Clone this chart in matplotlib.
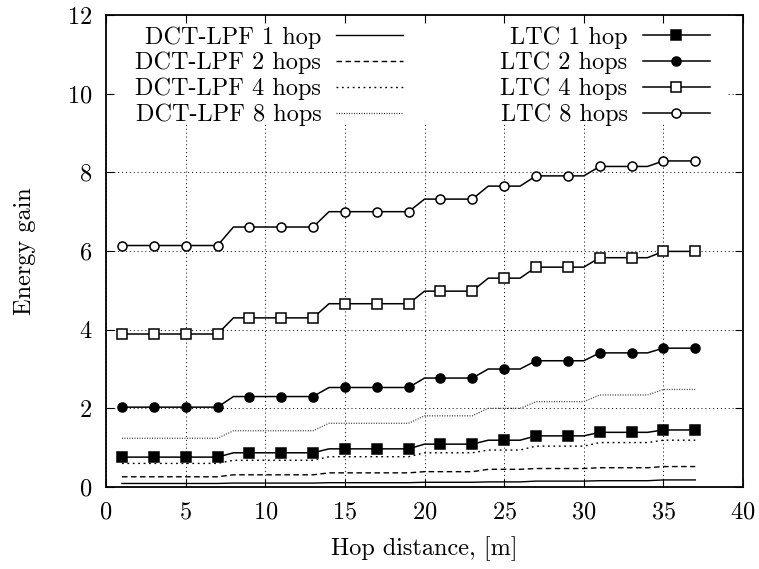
import numpy as np
import matplotlib
matplotlib.use("Agg")
import matplotlib.pyplot as plt
from matplotlib.patches import Rectangle

plt.rcParams["font.family"] = "serif"
plt.rcParams["font.serif"] = ["cmr10"]
plt.rcParams["mathtext.fontset"] = "cm"
plt.rcParams["axes.formatter.use_mathtext"] = True
plt.rcParams["font.size"] = 17.5

# hop distance in metres, one sample per metre
hop_distance = np.arange(1, 38)

dct_1 = [0.09, 0.09, 0.09, 0.09, 0.09, 0.09, 0.09,
         0.10, 0.10, 0.10, 0.10, 0.10, 0.10,
         0.11, 0.11, 0.11, 0.11, 0.11, 0.11,
         0.12, 0.12, 0.12, 0.12,
         0.13, 0.13, 0.13,
         0.15, 0.15, 0.15, 0.15,
         0.16, 0.16, 0.16, 0.16,
         0.18, 0.18, 0.18]
dct_2 = [0.26, 0.26, 0.26, 0.26, 0.26, 0.26, 0.26,
         0.31, 0.31, 0.31, 0.31, 0.31, 0.31,
         0.36, 0.36, 0.36, 0.36, 0.36, 0.36,
         0.39, 0.39, 0.39, 0.39,
         0.45, 0.45, 0.45,
         0.47, 0.47, 0.47, 0.47,
         0.49, 0.49, 0.49, 0.49,
         0.52, 0.52, 0.52]
dct_4 = [0.60, 0.60, 0.60, 0.60, 0.60, 0.60, 0.60,
         0.68, 0.68, 0.68, 0.68, 0.68, 0.68,
         0.77, 0.77, 0.77, 0.77, 0.77, 0.77,
         0.87, 0.87, 0.87, 0.87,
         0.94, 0.94, 0.94,
         1.04, 1.04, 1.04, 1.04,
         1.13, 1.13, 1.13, 1.13,
         1.19, 1.19, 1.19]
dct_8 = [1.24, 1.24, 1.24, 1.24, 1.24, 1.24, 1.24,
         1.43, 1.43, 1.43, 1.43, 1.43, 1.43,
         1.62, 1.62, 1.62, 1.62, 1.62, 1.62,
         1.81, 1.81, 1.81, 1.81,
         2.00, 2.00, 2.00,
         2.17, 2.17, 2.17, 2.17,
         2.34, 2.34, 2.34, 2.34,
         2.48, 2.48, 2.48]
ltc_1 = [0.76, 0.76, 0.76, 0.76, 0.76, 0.76, 0.76,
         0.87, 0.87, 0.87, 0.87, 0.87, 0.87,
         0.97, 0.97, 0.97, 0.97, 0.97, 0.97,
         1.09, 1.09, 1.09, 1.09,
         1.19, 1.19, 1.19,
         1.30, 1.30, 1.30, 1.30,
         1.39, 1.39, 1.39, 1.39,
         1.45, 1.45, 1.45]
ltc_2 = [2.03, 2.03, 2.03, 2.03, 2.03, 2.03, 2.03,
         2.30, 2.30, 2.30, 2.30, 2.30, 2.30,
         2.53, 2.53, 2.53, 2.53, 2.53, 2.53,
         2.77, 2.77, 2.77, 2.77,
         3.00, 3.00, 3.00,
         3.21, 3.21, 3.21, 3.21,
         3.41, 3.41, 3.41, 3.41,
         3.53, 3.53, 3.53]
ltc_4 = [3.89, 3.89, 3.89, 3.89, 3.89, 3.89, 3.89,
         4.30, 4.30, 4.30, 4.30, 4.30, 4.30,
         4.66, 4.66, 4.66, 4.66, 4.66, 4.66,
         4.98, 4.98, 4.98, 4.98,
         5.31, 5.31, 5.31,
         5.59, 5.59, 5.59, 5.59,
         5.83, 5.83, 5.83, 5.83,
         5.99, 5.99, 5.99]
ltc_8 = [6.14, 6.14, 6.14, 6.14, 6.14, 6.14, 6.14,
         6.61, 6.61, 6.61, 6.61, 6.61, 6.61,
         7.00, 7.00, 7.00, 7.00, 7.00, 7.00,
         7.32, 7.32, 7.32, 7.32,
         7.65, 7.65, 7.65,
         7.91, 7.91, 7.91, 7.91,
         8.15, 8.15, 8.15, 8.15,
         8.29, 8.29, 8.29]

x_ticks = [0, 5, 10, 15, 20, 25, 30, 35, 40]
y_ticks = [0, 2, 4, 6, 8, 10, 12]

fig = plt.figure(figsize=(7.59, 5.69), dpi=100)
pos = [0.1397, 0.1441, 0.8393, 0.8295]

# grid lives on its own axes underneath so the key box can hide it
ax_bg = fig.add_axes(pos)
ax_bg.set_xlim(0, 40)
ax_bg.set_ylim(0, 12)
ax_bg.set_xticks(x_ticks)
ax_bg.set_yticks(y_ticks)
ax_bg.grid(True, color="black", linestyle=(0, (1, 3)), linewidth=0.7)
ax_bg.tick_params(length=0, labelbottom=False, labelleft=False)
for s in ax_bg.spines.values():
    s.set_visible(False)

ax = fig.add_axes(pos, sharex=ax_bg, sharey=ax_bg)
ax.set_facecolor("none")
ax.add_patch(Rectangle((0, 0.773), 0.975, 0.227, transform=ax.transAxes,
                       facecolor="white", edgecolor="none", zorder=0.5))

ax.plot(hop_distance, dct_1, color="black", lw=1.0, ls="-", label="DCT-LPF 1 hop")
ax.plot(hop_distance, dct_2, color="black", lw=1.0, ls=(0, (4, 2.5)), label="DCT-LPF 2 hops")
ax.plot(hop_distance, dct_4, color="black", lw=1.0, ls=(0, (1.3, 2.6)), label="DCT-LPF 4 hops")
ax.plot(hop_distance, dct_8, color="#333333", lw=0.9, ls=(0, (0.8, 1.2)), label="DCT-LPF 8 hops")

mk = dict(color="black", lw=1.1, markevery=2, markeredgewidth=1.1, markeredgecolor="black")
ax.plot(hop_distance, ltc_1, marker="s", ms=7, markerfacecolor="black", label="LTC 1 hop", **mk)
ax.plot(hop_distance, ltc_2, marker="o", ms=6.5, markerfacecolor="black", label="LTC 2 hops", **mk)
ax.plot(hop_distance, ltc_4, marker="s", ms=7, markerfacecolor="white", label="LTC 4 hops", **mk)
ax.plot(hop_distance, ltc_8, marker="o", ms=6.5, markerfacecolor="white", label="LTC 8 hops", **mk)

ax.set_xlim(0, 40)
ax.set_ylim(0, 12)
ax.set_xticks(x_ticks)
ax.set_yticks(y_ticks)
ax.tick_params(direction="in", length=6, width=0.8, top=True, right=True, pad=10)
for s in ax.spines.values():
    s.set_linewidth(1.3)

ax.set_xlabel("Hop distance, [m]")
ax.set_ylabel("Energy gain")
ax.xaxis.set_label_coords(0.5, -0.105)
ax.yaxis.set_label_coords(-0.11, 0.5)

ax.legend(ncol=2, loc="upper right", bbox_to_anchor=(0.955, 0.987),
          borderaxespad=0, borderpad=0.2, frameon=False, markerfirst=False,
          handlelength=2.75, handletextpad=0.62, columnspacing=4.0,
          labelspacing=0.14, numpoints=1)

fig.savefig("out.png", dpi=100)
